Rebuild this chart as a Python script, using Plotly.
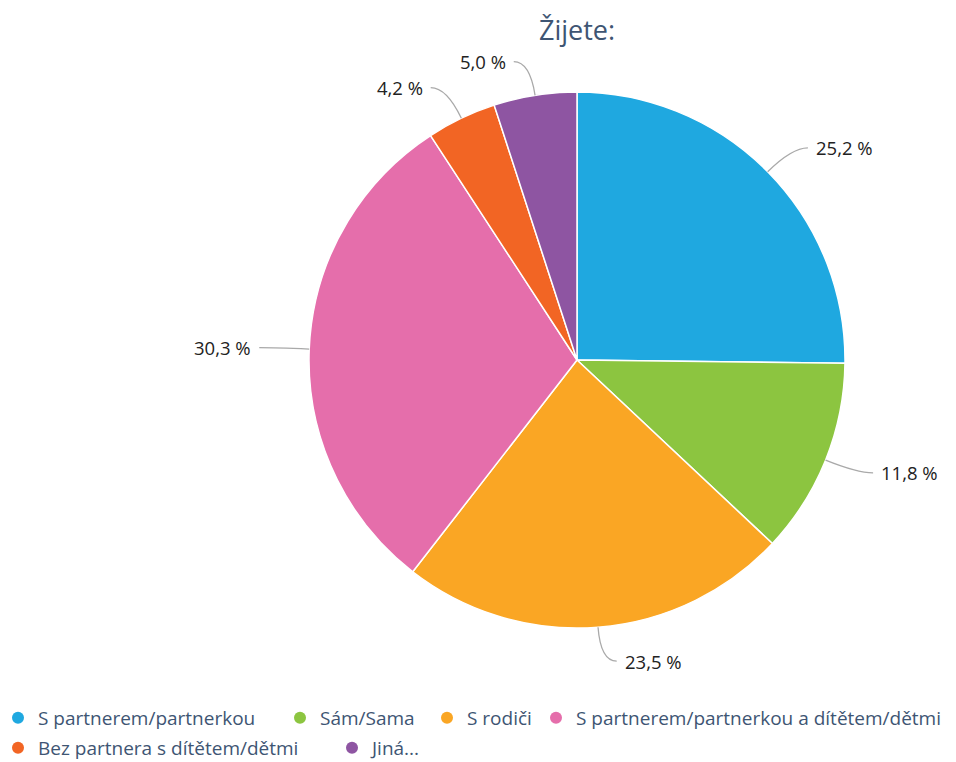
import math
import plotly.graph_objects as go

# Survey answers, in drawing order (clockwise from 12 o'clock)
labels = [
    "S partnerem/partnerkou",
    "Sám/Sama",
    "S rodiči",
    "S partnerem/partnerkou a dítětem/dětmi",
    "Bez partnera s dítětem/dětmi",
    "Jiná...",
]
shares = [25.2, 11.8, 23.5, 30.3, 4.2, 5.0]
colors = ["#1fa8e0", "#8cc540", "#faa624", "#e56eab", "#f26524", "#8e55a2"]

text_labels = [f"{v:.1f} %".replace(".", ",") for v in shares]

FONT = "Open Sans, Noto Sans, sans-serif"
PAD = 8                      # default body margin of the written page
FW, FH = 956 - PAD, 762 - PAD


def px(x):
    # page pixel -> paper x
    return (x - PAD) / FW


def py(y):
    # page pixel -> paper y
    return 1 - (y - PAD) / FH


# pie placement in page pixels
CX, CY, R = 577, 360, 268

fig = go.Figure()

fig.add_trace(go.Pie(
    labels=labels,
    values=shares,
    textinfo="none",
    marker=dict(colors=colors, line=dict(color="white", width=1.5)),
    sort=False,
    direction="clockwise",
    rotation=0,
    showlegend=False,
    hoverinfo="label+percent",
    domain=dict(x=[px(CX - R), px(CX + R)], y=[py(CY + R), py(CY - R)]),
))

# outside labels with bent connector lines, placed from slice mid-angles
total = sum(shares)
acc = 0.0
shapes = []
annotations = []
for v, txt in zip(shares, text_labels):
    ang = math.radians((acc + v / 2) / total * 360)
    acc += v
    sx, sy = math.sin(ang), -math.cos(ang)
    x0, y0 = CX + R * sx, CY + R * sy
    x1, y1 = CX + (R + 34) * sx, CY + (R + 34) * sy
    side = 1 if sx >= 0 else -1
    x2 = x1 + side * 16
    path = (f"M {px(x0):.5f},{py(y0):.5f} "
            f"Q {px(x1):.5f},{py(y1):.5f} {px(x2):.5f},{py(y1):.5f}")
    shapes.append(dict(
        type="path", xref="paper", yref="paper", path=path,
        line=dict(color="#a9a9a9", width=1.3),
    ))
    annotations.append(dict(
        xref="paper", yref="paper",
        x=px(x2 + side * 6), y=py(y1),
        xanchor="left" if side > 0 else "right", yanchor="middle",
        text=txt, showarrow=False,
        font=dict(family=FONT, size=18.5, color="#222222"),
    ))

# one legend per entry so the spacing can follow the original
legend_spots = [(18, 718), (300, 718), (447, 718), (556, 718), (18, 748), (352, 748)]
layout_legends = {}
for i, (name, col) in enumerate(zip(labels, colors)):
    key = "legend" if i == 0 else f"legend{i + 1}"
    fig.add_trace(go.Scatter(
        x=[None], y=[None], mode="markers", name=name,
        marker=dict(symbol="circle", size=15, color=col),
        hoverinfo="skip",
        legend=key,
    ))
    lx, ly = legend_spots[i]
    layout_legends[key] = dict(
        orientation="h",
        x=px(lx - 20), y=py(ly),
        xanchor="left", yanchor="middle",
        font=dict(family=FONT, size=19, color="#3e5573"),
        itemsizing="constant",
        itemwidth=30,
        bgcolor="rgba(0,0,0,0)",
    )

fig.update_layout(
    width=FW,
    height=FH,
    margin=dict(l=0, r=0, t=0, b=0, autoexpand=False),
    paper_bgcolor="white",
    plot_bgcolor="white",
    title=dict(
        text="Žijete:",
        x=px(577), xanchor="center",
        y=py(31), yanchor="middle",
        font=dict(family=FONT, size=27, color="#3e5573"),
    ),
    xaxis=dict(visible=False),
    yaxis=dict(visible=False),
    shapes=shapes,
    annotations=annotations,
    **layout_legends,
)

fig.write_html("out.html")
